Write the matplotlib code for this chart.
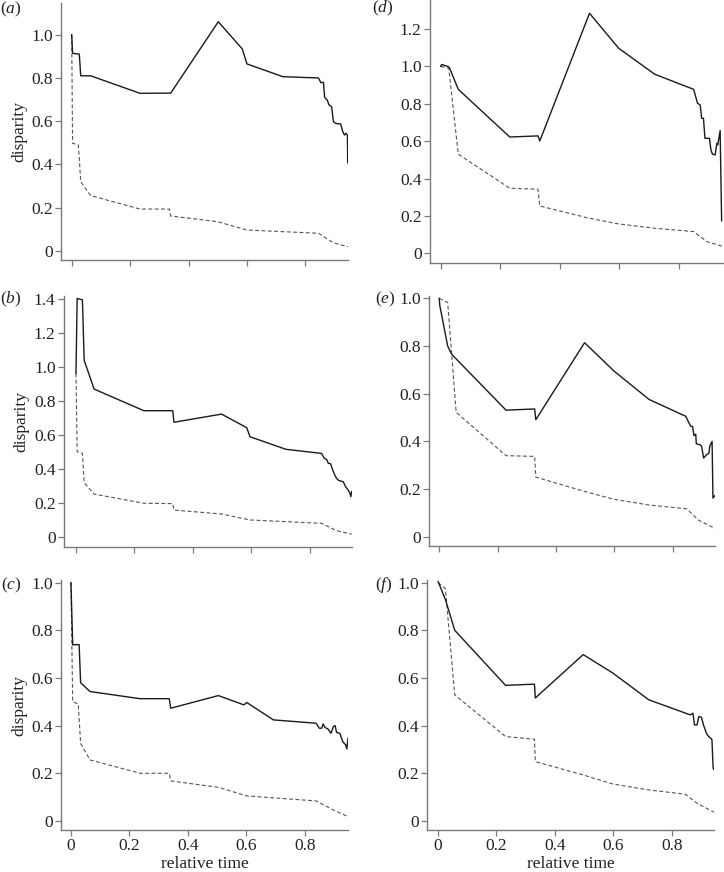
import matplotlib
matplotlib.use("Agg")
import matplotlib.pyplot as plt
from matplotlib import font_manager

_fp = font_manager.findfont(font_manager.FontProperties(family="Liberation Serif"), fallback_to_default=False)

plt.rcParams['font.family'] = ['Liberation Serif', 'DejaVu Serif']
plt.rcParams['mathtext.fontset'] = 'custom'
plt.rcParams['mathtext.rm'] = 'Liberation Serif'
plt.rcParams['mathtext.it'] = 'Liberation Serif:italic'

# ---------------- data ----------------
a_solid_x = [0, 0.003, 0.026, 0.031, 0.065, 0.234, 0.339, 0.502, 0.584, 0.600, 0.723, 0.845, 0.853, 0.862, 0.866,
             0.875, 0.881, 0.890, 0.896, 0.904, 0.921, 0.928, 0.934, 0.939, 0.944, 0.945]
a_solid_y = [1.0, 0.914, 0.91, 0.81, 0.81, 0.729, 0.73, 1.06, 0.934, 0.865, 0.806, 0.80, 0.778, 0.78, 0.71,
             0.698, 0.675, 0.667, 0.598, 0.59, 0.587, 0.552, 0.536, 0.544, 0.536, 0.408]
a_dash_x = [0, 0.003, 0.023, 0.031, 0.065, 0.234, 0.334, 0.339, 0.502, 0.599, 0.845, 0.896, 0.945]
a_dash_y = [1.0, 0.498, 0.49, 0.32, 0.256, 0.194, 0.194, 0.162, 0.135, 0.097, 0.082, 0.038, 0.020]

b_solid_x = [0, 0.004, 0.022, 0.028, 0.062, 0.232, 0.331, 0.335, 0.498, 0.584, 0.595, 0.718, 0.840, 0.849,
             0.857, 0.863, 0.871, 0.876, 0.885, 0.891, 0.899, 0.914, 0.922, 0.931, 0.937, 0.940, 0.943]
b_solid_y = [0.963, 1.404, 1.395, 1.04, 0.871, 0.744, 0.744, 0.676, 0.724, 0.644, 0.591, 0.517, 0.493, 0.464,
             0.458, 0.435, 0.432, 0.405, 0.366, 0.347, 0.333, 0.327, 0.297, 0.278, 0.258, 0.239, 0.27]
b_dash_x = [0, 0.004, 0.022, 0.028, 0.062, 0.232, 0.331, 0.335, 0.498, 0.595, 0.840, 0.891, 0.943]
b_dash_y = [0.963, 0.503, 0.493, 0.321, 0.254, 0.2, 0.198, 0.16, 0.137, 0.102, 0.082, 0.039, 0.018]

c_solid_x = [0, 0.006, 0.028, 0.033, 0.065, 0.236, 0.336, 0.341, 0.504, 0.591, 0.601, 0.692, 0.838, 0.849,
             0.857, 0.862, 0.868, 0.879, 0.889, 0.897, 0.903, 0.908, 0.919, 0.929, 0.939, 0.943, 0.947]
c_solid_y = [1.0, 0.739, 0.74, 0.58, 0.543, 0.513, 0.513, 0.473, 0.526, 0.487, 0.497, 0.424, 0.41, 0.389,
             0.389, 0.407, 0.393, 0.385, 0.368, 0.396, 0.4, 0.371, 0.368, 0.333, 0.319, 0.302, 0.347]
c_dash_x = [0, 0.006, 0.025, 0.033, 0.065, 0.236, 0.336, 0.341, 0.504, 0.601, 0.838, 0.897, 0.947]
c_dash_y = [1.0, 0.5, 0.491, 0.326, 0.256, 0.2, 0.2, 0.168, 0.141, 0.105, 0.084, 0.046, 0.018]

d_solid_x = [0, 0.003, 0.027, 0.030, 0.059, 0.232, 0.327, 0.333, 0.500, 0.598, 0.719, 0.850, 0.863, 0.872,
             0.877, 0.883, 0.888, 0.903, 0.908, 0.913, 0.922, 0.928, 0.931, 0.939, 0.944]
d_solid_y = [1.0, 1.01, 0.998, 0.99, 0.877, 0.622, 0.628, 0.601, 1.284, 1.097, 0.958, 0.877, 0.803, 0.793,
             0.722, 0.722, 0.615, 0.615, 0.553, 0.531, 0.526, 0.588, 0.58, 0.656, 0.174]
d_dash_x = [0, 0.027, 0.059, 0.232, 0.327, 0.333, 0.500, 0.598, 0.719, 0.850, 0.895, 0.951]
d_dash_y = [1.0, 0.99, 0.53, 0.348, 0.343, 0.253, 0.187, 0.157, 0.134, 0.116, 0.062, 0.035]

e_solid_x = [0, 0.002, 0.029, 0.043, 0.229, 0.327, 0.331, 0.498, 0.599, 0.719, 0.845, 0.856, 0.862, 0.868,
             0.873, 0.879, 0.881, 0.893, 0.899, 0.906, 0.916, 0.924, 0.927, 0.935, 0.938, 0.944]
e_solid_y = [1.0, 0.97, 0.8, 0.765, 0.531, 0.536, 0.491, 0.814, 0.695, 0.576, 0.505, 0.477, 0.463, 0.463,
             0.424, 0.43, 0.39, 0.386, 0.38, 0.33, 0.344, 0.35, 0.379, 0.40, 0.162, 0.172]
e_dash_x = [0, 0.029, 0.058, 0.229, 0.327, 0.331, 0.498, 0.599, 0.719, 0.848, 0.888, 0.945]
e_dash_y = [1.0, 0.983, 0.522, 0.34, 0.337, 0.25, 0.19, 0.157, 0.133, 0.117, 0.07, 0.035]

f_solid_x = [0, 0.025, 0.057, 0.231, 0.330, 0.333, 0.497, 0.598, 0.722, 0.864, 0.873, 0.878, 0.887, 0.893,
             0.902, 0.910, 0.919, 0.927, 0.935, 0.938, 0.942, 0.946]
f_solid_y = [1.005, 0.929, 0.8, 0.569, 0.574, 0.516, 0.698, 0.621, 0.508, 0.445, 0.452, 0.403, 0.403, 0.438,
             0.435, 0.399, 0.368, 0.354, 0.346, 0.34, 0.221, 0.214]
f_dash_x = [0, 0.025, 0.057, 0.231, 0.330, 0.333, 0.497, 0.598, 0.722, 0.847, 0.887, 0.946]
f_dash_y = [1.0, 0.975, 0.529, 0.354, 0.343, 0.249, 0.193, 0.155, 0.13, 0.112, 0.074, 0.036]

x_ticks = [0, 0.2, 0.4, 0.6, 0.8]
x_tick_labels = ["0", "0.2", "0.4", "0.6", "0.8"]
panel_labels = ["a", "b", "c", "d", "e", "f"]

# ---------------- layout (pixel boxes) ----------------
W, H = 724, 872
fig = plt.figure(figsize=(W / 100, H / 100), dpi=100)

panels = {
    "a": dict(box=(61, 3, 348, 260), xlim=(-0.0366, 0.946), ylim=(-0.0416, 1.1466), ymax=1.0,
              data=(a_solid_x, a_solid_y, a_dash_x, a_dash_y), lab=(11, 9), left=True, bottom=False),
    "b": dict(box=(64, 296, 352, 547), xlim=(-0.041, 0.944), ylim=(-0.057, 1.418), ymax=1.4,
              data=(b_solid_x, b_solid_y, b_dash_x, b_dash_y), lab=(11, 299), left=True, bottom=False),
    "c": dict(box=(61, 580, 348, 830), xlim=(-0.034, 0.947), ylim=(-0.038, 1.011), ymax=1.0,
              data=(c_solid_x, c_solid_y, c_dash_x, c_dash_y), lab=(11, 585), left=True, bottom=True),
    "d": dict(box=(430, 0, 724, 263), xlim=(-0.036, 0.952), ylim=(-0.052, 1.355), ymax=1.2,
              data=(d_solid_x, d_solid_y, d_dash_x, d_dash_y), lab=(383, 8), left=False, bottom=False),
    "e": dict(box=(429, 296, 715, 546), xlim=(-0.035, 0.945), ylim=(-0.039, 1.01), ymax=1.0,
              data=(e_solid_x, e_solid_y, e_dash_x, e_dash_y), lab=(385, 299), left=False, bottom=False),
    "f": dict(box=(427, 580, 714, 830), xlim=(-0.038, 0.945), ylim=(-0.038, 1.011), ymax=1.0,
              data=(f_solid_x, f_solid_y, f_dash_x, f_dash_y), lab=(384, 585), left=False, bottom=True),
}

axis_col = "#7a7a7a"
text_col = "#222222"
fs = 12.5

for name in panel_labels:
    p = panels[name]
    x0, y0, x1, y1 = p["box"]
    ax = fig.add_axes([x0 / W, 1 - y1 / H, (x1 - x0) / W, (y1 - y0) / H])
    sx, sy, dx, dy = p["data"]
    ax.plot(dx, dy, color="#555555", lw=0.8, dashes=(3.5, 2.2))
    ax.plot(sx, sy, color="#1a1a1a", lw=1.0)
    ax.set_xlim(*p["xlim"])
    ax.set_ylim(*p["ylim"])
    for s in ("top", "right"):
        ax.spines[s].set_visible(False)
    for s in ("left", "bottom"):
        ax.spines[s].set_color(axis_col)
        ax.spines[s].set_linewidth(1.0)
    yt = [round(0.2 * i, 1) for i in range(int(round(p["ymax"] / 0.2)) + 1)]
    ax.set_yticks(yt)
    ax.set_yticklabels(["0" if v == 0 else f"{v:.1f}" for v in yt])
    ax.set_xticks(x_ticks)
    if p["bottom"]:
        ax.set_xticklabels(x_tick_labels)
        ax.set_xlabel("relative time", fontsize=fs, color=text_col, labelpad=1)
    else:
        ax.set_xticklabels([])
    ax.tick_params(direction="out", length=4.5, width=0.9, color=axis_col, labelsize=fs,
                   labelcolor=text_col, pad=1.5)
    if p["left"]:
        ax.set_ylabel("disparity", fontsize=fs, color=text_col, labelpad=3)
    lx, ly = p["lab"]
    fig.text(lx / W, 1 - ly / H, r"$(\mathit{%s})$" % name, fontsize=fs, color=text_col,
             ha="center", va="center")

fig.savefig("out.png", dpi=100)
